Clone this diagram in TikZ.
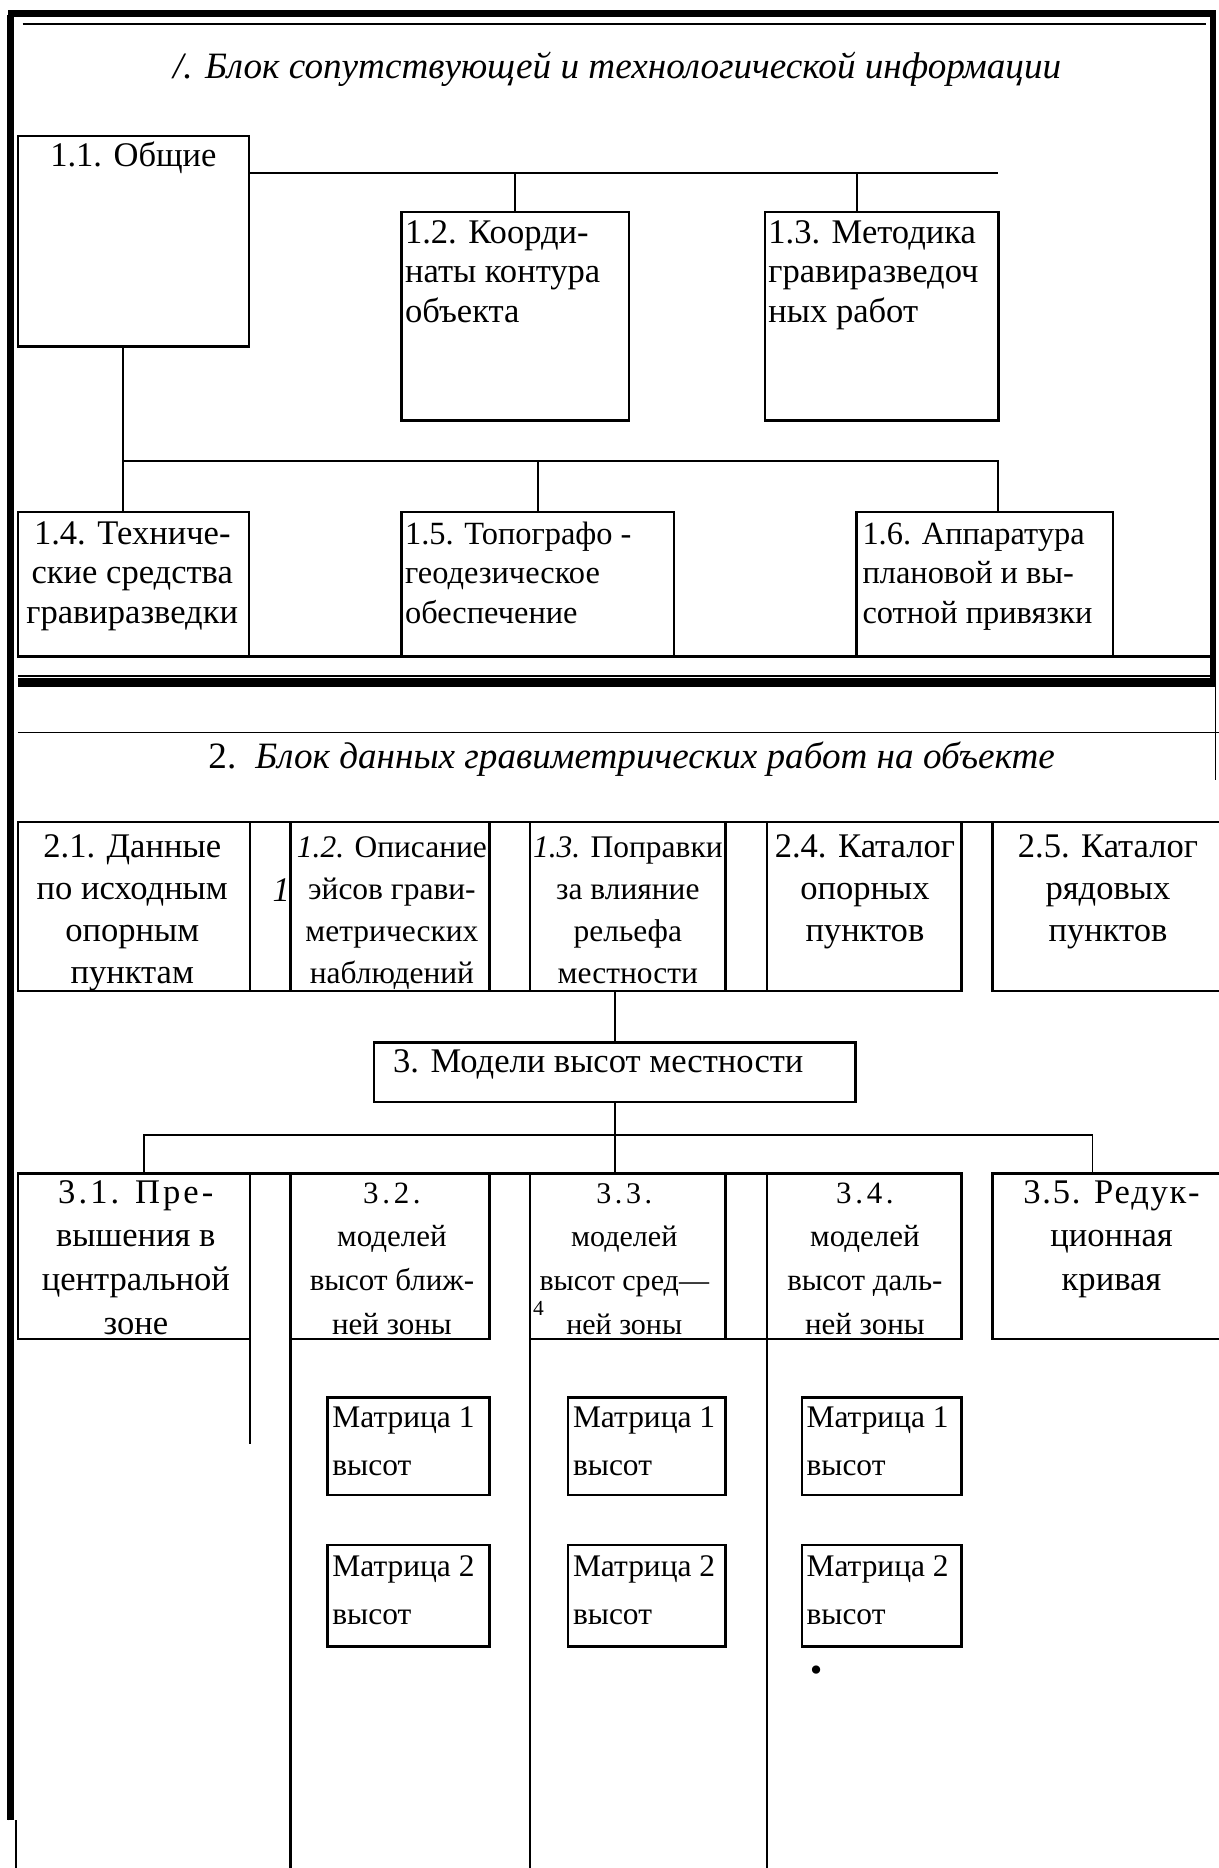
\documentclass[tikz,border=0pt]{standalone}
\usepackage{fontspec}
\setmainfont{Liberation Serif}
\newfontfamily\lsa[LetterSpace=9]{Liberation Serif}
\newfontfamily\lsb[LetterSpace=12]{Liberation Serif}
\newfontfamily\lsc[LetterSpace=5]{Liberation Serif}
\usetikzlibrary{calc}
\newcommand\fs{\fontsize{14.5}{16.5}\selectfont}
\newcommand\ml[2]{\begin{tabular}[t]{@{}#1@{}}#2\end{tabular}}
\newcommand\mkbox[5]{\node[bx, minimum width={(#4-#2)*0.5pt}, minimum height={(#5-#3)*0.5pt}] (#1) at (#2,#3) {};}
\tikzset{
  bx/.style={draw, line width=1pt, inner sep=0pt, outer sep=0pt, anchor=north west},
  ln/.style={line width=0.8pt},
  thinln/.style={line width=0.6pt},
  thickln/.style={line width=2.6pt},
  tx/.style={inner sep=0pt, outer sep=0pt, anchor=base, font=\fs},
  txl/.style={tx, anchor=base west},
  r1/.style={font=\fontsize{14.5}{16.6}\selectfont},
  r1s/.style={font=\fontsize{13.6}{16.6}\selectfont},
  r2/.style={font=\fontsize{14.5}{17.6}\selectfont},
  r2s/.style={font=\fontsize{13.2}{17.6}\selectfont},
  r3/.style={font=\fontsize{14.5}{18.3}\selectfont},
  r3s/.style={font=\fontsize{13}{18.3}\selectfont},
  mt/.style={font=\fontsize{13.2}{20.2}\selectfont},
}
\begin{document}
\begin{tikzpicture}[x=0.5pt,y=-0.5pt]
\useasboundingbox (0,0) rectangle (1023,1568);
% ---------- frame ----------
\draw[thickln] (9.5,1528) -- (9.5,11.3) -- (1018.5,11.3) -- (1018.5,577);
\draw[thinln] (6.3,13) -- (6.3,1528);
\draw[thinln] (19,20.3) -- (1012,20.3);
\draw[line width=1pt] (13.4,1528) -- (13.4,1568);
\draw[thinln] (1020.5,577) -- (1020.5,655);
% ---------- block 1 ----------
\node[tx, font=\fontsize{15.6}{18}\selectfont\itshape] (title1) at (518,66) {/. Блок сопутствующей и технологической информации};
\mkbox{b11}{15}{114}{209}{291}
\mkbox{b12}{337}{178}{528}{353}
\mkbox{b13}{642}{178}{838}{353}
\mkbox{b14}{15}{430}{209}{551}
\mkbox{b15}{337}{430}{566}{551}
\mkbox{b16}{719}{430}{934}{551}
\coordinate (h1) at (838,145);
\coordinate (j13) at (719,145);
\draw[ln] (b11.east |- h1) -- (h1);
\draw[ln] (b12.north) -- (b12.north |- h1);
\draw[ln] (j13) -- (j13 |- b13.north);
\coordinate (v1) at (103,387);
\coordinate (v2) at (838,387);
\draw[ln] (v1 |- b11.south) -- (v1 |- b14.north);
\draw[ln] (v1) -- (v2) -- (v2 |- b16.north);
\draw[ln] (b15.north) -- (b15.north |- v1);
\node[tx] (t11) at (112,140) {1.1. Общие};
\node[txl, r1] (t12) at (340,204) {\ml{l}{1.2. Коорди-\\наты контура\\объекта}};
\node[txl, r1] (t13) at (645,204) {\ml{l}{1.3. Методика\\гравиразведоч\\ных работ}};
\node[tx, r1] (t14) at (111,457) {\ml{c}{1.4. Техниче-\\ские средства\\гравиразведки}};
\node[txl, r1s] (t15) at (340,457) {\ml{l}{1.5. Топографо -\\геодезическое\\обеспечение}};
\node[txl, r1s] (t16) at (724,457) {\ml{l}{1.6. Аппаратура\\плановой и вы-\\сотной привязки}};
% ---------- divider ----------
\coordinate (d1) at (15,551);
\coordinate (d2) at (1018.5,551);
\draw[line width=1pt] (d1) -- (d2);
\draw[thinln] (15,567.3) -- (1018.5,567.3);
\draw[line width=3.8pt] (15,573) -- (1021,573);
\draw[thinln] (15,615) -- (1023,615);
% ---------- block 2 ----------
\node[txl, font=\fontsize{15.6}{18}\selectfont] (title2) at (175,645) {2.\hspace{8pt}\itshape Блок данных гравиметрических работ на объекте};
\mkbox{b21}{15}{690}{210}{832}
\mkbox{b22}{244}{690}{411}{832}
\mkbox{b23}{445}{690}{609}{832}
\mkbox{b24}{644}{690}{807}{832}
\mkbox{b25}{833}{690}{1030}{832}
\draw[line width=1pt] (b21.north west) -- (1023,690);
\draw[line width=1pt] (b21.south west) -- (b24.south east);
\node[tx, r2] (t21) at (111,720) {\ml{c}{2.1. Данные\\по исходным\\опорным\\пунктам}};
\node[tx, font=\fs\itshape] (one) at (236,757) {1};
\node[tx, r2s] (t22) at (329,720) {\ml{c}{\textit{1.2.} Описание\\эйсов грави-\\метрических\\наблюдений}};
\node[tx, r2s] (t23) at (527,720) {\ml{c}{\textit{1.3.} Поправки\\за влияние\\рельефа\\местности}};
\node[tx, r2] (t24) at (726,720) {\ml{c}{2.4. Каталог\\опорных\\пунктов}};
\node[tx, r2] (t25) at (930,720) {\ml{c}{2.5. Каталог\\рядовых\\пунктов}};
% ---------- block 3 ----------
\mkbox{b3}{314}{875}{718}{925}
\node[txl] (t3) at (330,900) {3. Модели высот местности};
\mkbox{b31}{15}{985}{210}{1124}
\mkbox{b32}{244}{985}{411}{1124}
\mkbox{b33}{445}{985}{609}{1124}
\mkbox{b34}{644}{985}{807}{1124}
\mkbox{b35}{833}{985}{1030}{1124}
\draw[line width=1pt] (b31.north west) -- (b34.north east);
\draw[line width=1pt] (b33.south west) -- (b34.south east);
\coordinate (bot) at (0,1568);
\draw[line width=1pt] (b31.north east) -- (b31.north east |- 0,1212);
\draw[line width=1pt] (b32.south west) -- (b32.south west |- bot);
\draw[line width=1pt] (b33.south west) -- (b33.south west |- bot);
\draw[line width=1pt] (b34.south west) -- (b34.south west |- bot);
\draw[ln] (b3.north) -- (b3.north |- b23.south);
\draw[ln] (b3.south) -- (b3.south |- b33.north);
\coordinate (hl) at (121,953);
\coordinate (hr) at (917,953);
\draw[ln] (hl |- b31.north) -- (hl) -- (hr) -- (hr |- b35.north);
\node[tx, r3] (t31) at (114,1010) {\ml{c}{{\lsa 3.1. Пре-}\\вышения в\\центральной\\зоне}};
\node[tx, r3s] (t32) at (329,1010) {\ml{c}{{\lsb 3.2.}\\моделей\\высот ближ-\\ней зоны}};
\node[tx, r3s, font=\fontsize{12.6}{18.3}\selectfont] (t33) at (524,1010) {\ml{c}{{\lsb 3.3.}\\моделей\\высот сред—\\ней зоны}};
\node[tx, font=\fontsize{9}{10}\selectfont] (sup4) at (452,1104) {4};
\node[tx, r3s] (t34) at (726,1010) {\ml{c}{{\lsb 3.4.}\\моделей\\высот даль-\\ней зоны}};
\node[tx, r3] (t35) at (933,1010) {\ml{c}{{\lsc 3.5. Редук-}\\ционная\\кривая}};
% ---------- matrices ----------
\mkbox{m21}{275}{1173}{411}{1255}
\mkbox{m22}{275}{1297}{411}{1382}
\mkbox{m31}{477}{1173}{609}{1255}
\mkbox{m32}{477}{1297}{609}{1382}
\mkbox{m41}{673}{1173}{807}{1255}
\mkbox{m42}{673}{1297}{807}{1382}
\foreach \mx/\nm in {279/a, 481/b, 677/c}{
  \node[txl, mt] (mt1\nm) at (\mx,1198) {\ml{l}{Матрица 1\\высот}};
  \node[txl, mt] (mt2\nm) at (\mx,1323) {\ml{l}{Матрица 2\\высот}};
}
\node[tx, anchor=center] (dot) at (685,1405) {•};
\end{tikzpicture}
\end{document}
